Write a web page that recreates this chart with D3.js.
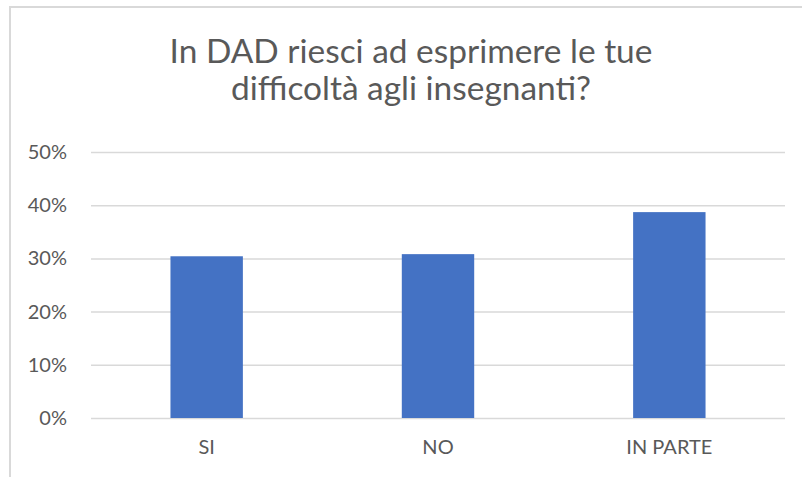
<!DOCTYPE html>
<html>
<head>
<meta charset="utf-8">
<script src="https://cdn.jsdelivr.net/npm/d3@7"></script>
<style>
  html, body { margin: 0; padding: 0; background: #fff; }
  svg { display: block; }
  text { font-family: Lato, "Open Sans", sans-serif; fill: #595959; }
</style>
</head>
<body>
<div id="chart"></div>
<script>
const titleLines = ['In DAD riesci ad esprimere le tue', 'difficoltà agli insegnanti?'];
const categories = ['SI', 'NO', 'IN PARTE'];
const values = [0.304, 0.308, 0.387];
const yTicks = [0, 0.1, 0.2, 0.3, 0.4, 0.5];

const width = 802;
const height = 477;
const plot = { left: 91, right: 785, top: 152, bottom: 418 };
const labelSize = 20;

const svg = d3.select('#chart')
  .append('svg')
  .attr('width', width)
  .attr('height', height);

// Chart frame (runs off the right and bottom edges)
svg.append('rect')
  .attr('x', 10)
  .attr('y', 7)
  .attr('width', 900)
  .attr('height', 600)
  .attr('fill', 'none')
  .attr('stroke', '#d9d9d9')
  .attr('stroke-width', 2);

// Title
const title = svg.append('g').attr('class', 'title');
const titleSize = 32;
title.selectAll('text')
  .data(titleLines)
  .join('text')
  .attr('x', 411)
  .attr('y', (d, i) => 63 + i * 37)
  .attr('text-anchor', 'middle')
  .attr('font-size', titleSize)
  .attr('fill', '#626262')
  .text(d => d);

// fit first line to the measured width of the reference
const firstLen = title.select('text').node().getComputedTextLength();
const fitted = titleSize * 483 / firstLen;
title.selectAll('text').attr('font-size', fitted);

// Scales
const x = d3.scaleBand()
  .domain(categories)
  .range([plot.left, plot.right])
  .padding(0);

const y = d3.scaleLinear()
  .domain([0, 0.5])
  .range([plot.bottom, plot.top]);

const barWidth = x.bandwidth() * 0.313;

// Y axis + gridlines
const yAxis = svg.append('g')
  .attr('transform', `translate(${plot.left},0)`)
  .call(d3.axisLeft(y)
    .tickValues(yTicks)
    .tickFormat(d3.format('.0%'))
    .tickSize(-(plot.right - plot.left))
    .tickPadding(24));

yAxis.select('.domain').remove();
yAxis.selectAll('.tick line')
  .attr('stroke', '#d9d9d9')
  .attr('stroke-width', 1.5);
yAxis.selectAll('.tick text')
  .attr('font-size', labelSize)
  .attr('fill', '#595959');

// Bars
svg.append('g')
  .selectAll('rect')
  .data(categories)
  .join('rect')
  .attr('x', d => x(d) + (x.bandwidth() - barWidth) / 2)
  .attr('y', (d, i) => y(values[i]))
  .attr('width', barWidth)
  .attr('height', (d, i) => y(0) - y(values[i]))
  .attr('fill', '#4472c4');

// X axis
const xAxis = svg.append('g')
  .attr('transform', `translate(0,${plot.bottom})`)
  .call(d3.axisBottom(x).tickSize(0).tickPadding(22));

xAxis.select('.domain').remove();
xAxis.selectAll('.tick text')
  .attr('font-size', labelSize)
  .attr('fill', '#595959');
</script>
</body>
</html>
